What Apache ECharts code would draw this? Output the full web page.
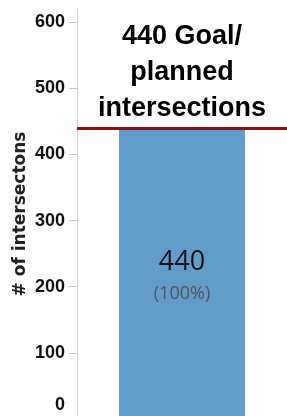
<!DOCTYPE html>
<html>
<head>
<meta charset="utf-8">
<script src="https://cdn.jsdelivr.net/npm/echarts@6/dist/echarts.min.js"></script>
<style>
  html, body { margin: 0; padding: 0; background: #fff; }
  #chart { width: 287px; height: 416px; }
</style>
</head>
<body>
<div id="chart"></div>
<script>
var categories = ['Intersections'];
var completed = [440];
var goal = 440;
var yTicks = [0, 100, 200, 300, 400, 500, 600];

var chart = echarts.init(document.getElementById('chart'));

var option = {
    animation: false,
    grid: {
        left: 77,
        right: 0,
        top: 9,
        bottom: -3,
        outerBoundsMode: 'none',
        containLabel: false
    },
    xAxis: {
        type: 'category',
        position: 'top',
        data: categories,
        axisLine: { show: true, lineStyle: { color: '#e0e0e0', width: 1 } },
        axisTick: { show: false },
        axisLabel: { show: false }
    },
    yAxis: {
        type: 'value',
        min: 0,
        max: 620,
        name: '# of intersectons',
        nameLocation: 'middle',
        nameRotate: 90,
        nameGap: 48,
        nameMoveOverlap: false,
        nameTextStyle: {
            fontFamily: 'DejaVu Sans',
            fontWeight: 'bold',
            fontSize: 17,
            color: '#222'
        },
        axisLine: { show: true, lineStyle: { color: '#d0d0d0', width: 1 } },
        axisTick: {
            show: true,
            length: 8,
            customValues: yTicks,
            lineStyle: { color: '#c8c8c8' }
        },
        axisLabel: {
            margin: 12,
            customValues: yTicks,
            fontFamily: 'Liberation Sans',
            fontWeight: 'bold',
            fontSize: 18,
            color: '#111',
            formatter: function (v) {
                // Tableau nudges the bottom label up to keep it in view
                return v === 0 ? '{z|0}' : String(v);
            },
            rich: {
                z: {
                    fontFamily: 'Liberation Sans',
                    fontWeight: 'bold',
                    fontSize: 18,
                    color: '#111',
                    padding: [0, 0, 28, 0]
                }
            }
        },
        splitLine: { show: false }
    },
    series: [{
        type: 'bar',
        data: completed,
        barWidth: '60%',
        itemStyle: { color: '#619dc8' },
        label: {
            show: true,
            position: 'insideTop',
            distance: 119,
            formatter: function (p) {
                var pct = Math.round(p.value / goal * 100);
                return '{a|' + p.value + '}\n{b|(' + pct + '%)}';
            },
            rich: {
                a: {
                    fontFamily: 'Open Sans',
                    fontSize: 27,
                    color: '#111',
                    lineHeight: 31,
                    align: 'center'
                },
                b: {
                    fontFamily: 'Open Sans',
                    fontSize: 18,
                    color: '#555',
                    lineHeight: 31,
                    align: 'center'
                }
            }
        },
        markLine: {
            silent: true,
            symbol: 'none',
            lineStyle: { color: '#8c1010', width: 3, type: 'solid' },
            label: {
                show: true,
                position: 'insideMiddleTop',
                distance: 1,
                formatter: goal + ' Goal/\nplanned\nintersections',
                fontFamily: 'Liberation Sans',
                fontWeight: 'bold',
                fontSize: 27,
                lineHeight: 36,
                color: '#000',
                align: 'center'
            },
            data: [{ yAxis: goal }]
        }
    }]
};

chart.setOption(option);
</script>
</body>
</html>
